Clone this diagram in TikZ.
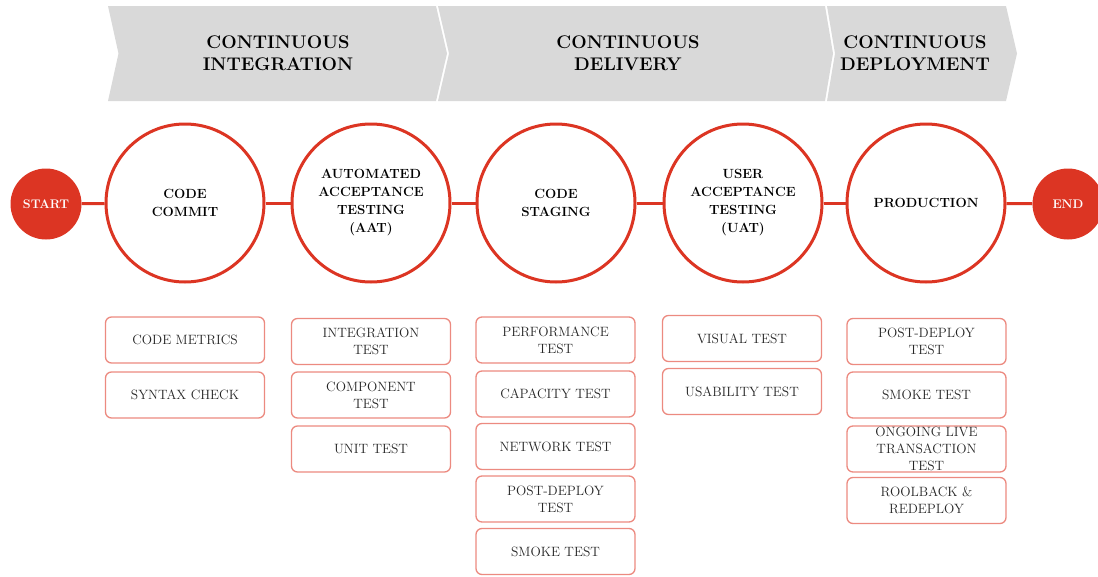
\documentclass[tikz,border=0pt]{standalone}
\usetikzlibrary{positioning}
\definecolor{redmain}{HTML}{DC3523}
\definecolor{boxline}{HTML}{EC8A80}
\definecolor{bannergrey}{HTML}{D9D9D9}
\definecolor{boxtext}{HTML}{262626}
\begin{document}
\begin{tikzpicture}[x=1pt,y=-1pt,
  stage/.style={circle,draw=redmain,line width=3pt,fill=white,minimum size=158pt,inner sep=0pt,
    align=center,font=\bfseries\fontsize{13.3}{18}\selectfont},
  terminal/.style={circle,fill=redmain,minimum size=71pt,inner sep=0pt,text=white,
    font=\bfseries\fontsize{12.5}{14}\selectfont},
  testbox/.style={rectangle,rounded corners=6pt,draw=boxline,line width=1.3pt,fill=white,
    minimum width=159pt,minimum height=46pt,inner sep=0pt,align=center,text=boxtext,
    font=\fontsize{13.5}{17}\selectfont},
  header/.style={align=center,font=\bfseries\fontsize{18.3}{22}\selectfont},
  link/.style={draw=redmain,line width=3pt}]
\useasboundingbox (0,0) rectangle (1098,576);
% banner
\fill[bannergrey] (108,6) -- (436,6) -- (447,53.5) -- (436,101) -- (108,101) -- (118.5,53.5) -- cycle;
\fill[bannergrey] (438,6) -- (825,6) -- (833,53.5) -- (825,101) -- (438,101) -- (449,53.5) -- cycle;
\fill[bannergrey] (827,6) -- (1006,6) -- (1017,53.5) -- (1006,101) -- (827,101) -- (835,53.5) -- cycle;
\node[header] (h1) at (278,53.5) {CONTINUOUS\\INTEGRATION};
\node[header] (h2) at (628,53.5) {CONTINUOUS\\DELIVERY};
\node[header] (h3) at (915,53.5) {CONTINUOUS\\DEPLOYMENT};
% stages
\node[terminal] (start) at (46,204) {START};
\node[stage] (c1) at (185,203) {CODE\\COMMIT};
\node[stage] (c2) at (371,203) {AUTOMATED\\ACCEPTANCE\\TESTING\\(AAT)};
\node[stage] (c3) at (556,203) {CODE\\STAGING};
\node[stage] (c4) at (743,203) {USER\\ACCEPTANCE\\TESTING\\(UAT)};
\node[stage] (c5) at (926,203) {PRODUCTION};
\node[terminal] (end) at (1068,204) {END};
\draw[link] (start) -- (c1);
\draw[link] (c1) -- (c2);
\draw[link] (c2) -- (c3);
\draw[link] (c3) -- (c4);
\draw[link] (c4) -- (c5);
\draw[link] (c5) -- (end);
% tests
\node[testbox] (b11) at (185,340) {CODE METRICS};
\node[testbox] (b12) at (185,395) {SYNTAX CHECK};
\node[testbox] (b21) at (371,341.5) {INTEGRATION\\TEST};
\node[testbox] (b22) at (371,395) {COMPONENT\\TEST};
\node[testbox] (b23) at (371,449) {UNIT TEST};
\node[testbox] (b31) at (555.5,340) {PERFORMANCE\\TEST};
\node[testbox] (b32) at (555.5,394) {CAPACITY TEST};
\node[testbox] (b33) at (555.5,446.5) {NETWORK TEST};
\node[testbox] (b34) at (555.5,499) {POST-DEPLOY\\TEST};
\node[testbox] (b35) at (555.5,551.5) {SMOKE TEST};
\node[testbox] (b41) at (742,338.5) {VISUAL TEST};
\node[testbox] (b42) at (742,391.5) {USABILITY TEST};
\node[testbox] (b51) at (926.5,341.5) {POST-DEPLOY\\TEST};
\node[testbox] (b52) at (926.5,395) {SMOKE TEST};
\node[testbox] (b53) at (926.5,449) {ONGOING LIVE\\TRANSACTION\\TEST};
\node[testbox] (b54) at (926.5,500.5) {ROOLBACK \&\\REDEPLOY};
\end{tikzpicture}
\end{document}
